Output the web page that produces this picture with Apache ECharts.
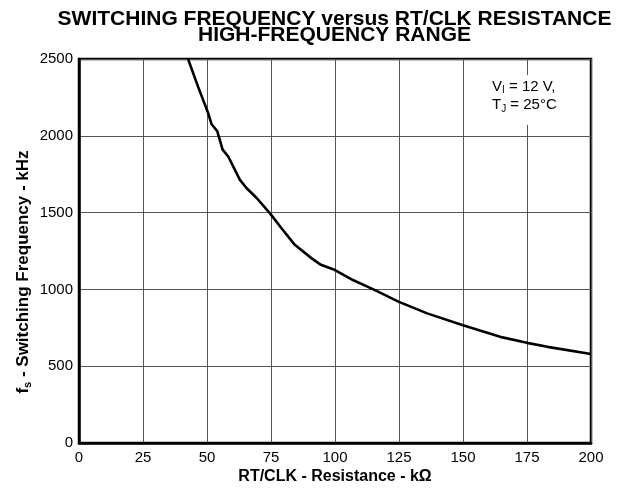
<!DOCTYPE html>
<html>
<head>
<meta charset="utf-8">
<script src="https://cdn.jsdelivr.net/npm/echarts@6/dist/echarts.min.js"></script>
<style>
html,body{margin:0;padding:0;background:#fff;}
#chart{width:618px;height:491px;}
</style>
</head>
<body>
<div id="chart"></div>
<script>
// Data
var resistanceK = [42.6, 46.5, 50.4, 51.8, 54.0, 56.1, 58.3, 62.8, 65.4, 69.4, 74.6, 79.1, 84.3, 90.9, 94.5, 100, 107, 115, 125, 136, 150, 164.5, 175, 183, 200];
var freqKHz     = [2500, 2320, 2150, 2075, 2030, 1910, 1865, 1715, 1660, 1595, 1495, 1398, 1290, 1202, 1160, 1126, 1061, 1000, 919, 844, 767, 691, 652, 626, 580];
var xTicks = [0, 25, 50, 75, 100, 125, 150, 175, 200];
var yTicks = [0, 500, 1000, 1500, 2000, 2500];
var titleLines = ['SWITCHING FREQUENCY versus RT/CLK RESISTANCE', 'HIGH-FREQUENCY RANGE'];
var xTitle = 'RT/CLK - Resistance - k\u03A9';
var yTitleMain = 'f', yTitleSub = 's', yTitleRest = ' - Switching Frequency - kHz';
var noteLines = [['V', 'I', ' = 12 V,'], ['T', 'J', ' = 25\u00B0C']];

var FONT = 'Liberation Sans, Arial, Helvetica, sans-serif';
var points = resistanceK.map(function (r, i) { return [r, freqKHz[i]]; });

var chart = echarts.init(document.getElementById('chart'), null, {renderer: 'canvas'});

var richSub = {
  a: {fontSize: 15, lineHeight: 18, fontFamily: FONT, fill: '#000', color: '#000'},
  b: {fontSize: 10, lineHeight: 10, verticalAlign: 'bottom', fontFamily: FONT, fill: '#000', color: '#000'}
};
var richYTitle = {
  a: {fontSize: 17, lineHeight: 20, fontWeight: 'bold', fontFamily: FONT, fill: '#000', color: '#000'},
  b: {fontSize: 11, lineHeight: 11, verticalAlign: 'bottom', fontWeight: 'bold', fontFamily: FONT, fill: '#000', color: '#000'}
};
function plain(v) { return String(v); }

var option = {
  backgroundColor: '#fff',
  animation: false,
  grid: {left: 79, right: 27, top: 59, bottom: 48, show: true, borderColor: '#000', borderWidth: 2.5, backgroundColor: 'transparent'},
  xAxis: {
    type: 'value', min: xTicks[0], max: xTicks[xTicks.length - 1], interval: 25,
    axisLine: {show: true, onZero: false, lineStyle: {color: '#000', width: 2.5}},
    axisTick: {show: false},
    axisLabel: {color: '#000', fontSize: 15, fontFamily: FONT, margin: 7, showMinLabel: true, showMaxLabel: true, formatter: plain},
    splitLine: {show: true, lineStyle: {color: '#555', width: 1}}
  },
  yAxis: {
    type: 'value', min: yTicks[0], max: yTicks[yTicks.length - 1], interval: 500,
    axisLine: {show: true, onZero: false, lineStyle: {color: '#000', width: 2.5}},
    axisTick: {show: false},
    axisLabel: {color: '#000', fontSize: 15, fontFamily: FONT, margin: 6, showMinLabel: true, showMaxLabel: true, formatter: plain},
    splitLine: {show: true, lineStyle: {color: '#555', width: 1}}
  },
  series: [{
    type: 'line', data: points, showSymbol: false, symbol: 'none', smooth: false,
    clip: true, lineStyle: {color: '#000', width: 2.6}, z: 5
  }],
  graphic: [
    {type: 'text', x: 334.5, y: 19.5, z: 100,
     style: {text: titleLines[0], fontSize: 21, fontWeight: 'bold', fontFamily: FONT, fill: '#000', align: 'center', verticalAlign: 'middle'}},
    {type: 'text', x: 334.5, y: 35, z: 100,
     style: {text: titleLines[1], fontSize: 21, fontWeight: 'bold', fontFamily: FONT, fill: '#000', align: 'center', verticalAlign: 'middle'}},
    {type: 'text', x: 335, y: 477, z: 100,
     style: {text: xTitle, fontSize: 16, fontWeight: 'bold', fontFamily: FONT, fill: '#000', align: 'center', verticalAlign: 'middle'}},
    {type: 'text', x: 23, y: 272, rotation: Math.PI / 2, z: 100,
     style: {text: '{a|' + yTitleMain + '}{b|' + yTitleSub + '}{a|' + yTitleRest + '}', rich: richYTitle, align: 'center', verticalAlign: 'middle'}},
    {type: 'rect', shape: {x: 484, y: 75, width: 88, height: 50}, z: 90, style: {fill: '#fff', stroke: null}},
    {type: 'text', x: 492, y: 86.7, z: 100,
     style: {text: '{a|' + noteLines[0][0] + '}{b|' + noteLines[0][1] + '}{a|' + noteLines[0][2] + '}', rich: richSub, align: 'left', verticalAlign: 'middle'}},
    {type: 'text', x: 492, y: 105, z: 100,
     style: {text: '{a|' + noteLines[1][0] + '}{b|' + noteLines[1][1] + '}{a|' + noteLines[1][2] + '}', rich: richSub, align: 'left', verticalAlign: 'middle'}}
  ]
};
chart.setOption(option);
</script>
</body>
</html>
